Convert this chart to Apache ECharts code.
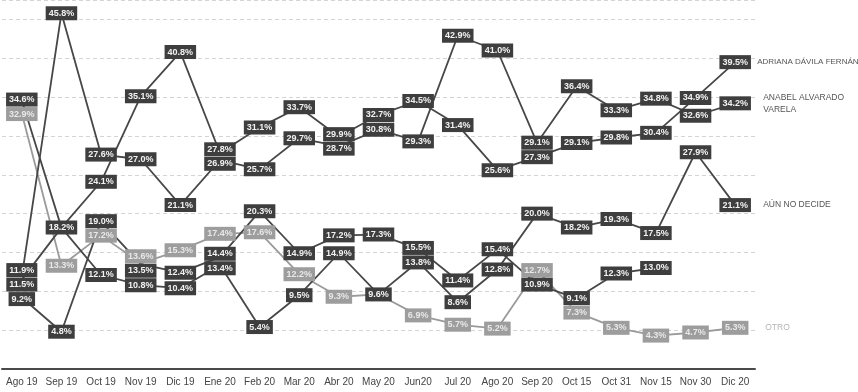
<!DOCTYPE html>
<html>
<head>
<meta charset="utf-8">
<script src="https://cdn.jsdelivr.net/npm/echarts@6/dist/echarts.min.js"></script>
<style>
html,body{margin:0;padding:0;background:#fff;}
#chart{width:858px;height:392px;}
</style>
</head>
<body>
<div id="chart"></div>
<script>
const categories = ['Ago 19','Sep 19','Oct 19','Nov 19','Dic 19','Ene 20','Feb 20','Mar 20','Abr 20','May 20','Jun20','Jul 20','Ago 20','Sep 20','Oct 15','Oct 31','Nov 15','Nov 30','Dic 20'];
const adriana = [34.6,18.2,24.1,35.1,40.8,27.8,31.1,33.7,29.9,32.7,34.5,31.4,25.6,27.3,29.1,29.8,30.4,34.9,39.5];
const anabel = [11.9,45.8,27.6,27.0,21.1,26.9,25.7,29.7,28.7,30.8,29.3,42.9,41.0,29.1,36.4,33.3,34.8,32.6,34.2];
const aunNoDecide = [11.5,18.2,12.1,10.8,10.4,13.4,5.4,9.5,14.9,9.6,13.8,8.6,12.8,20.0,18.2,19.3,17.5,27.9,21.1];
const otroCandidato = [9.2,4.8,19.0,13.5,12.4,14.4,20.3,14.9,17.2,17.3,15.5,11.4,15.4,10.9,9.1,12.3,13.0,null,null];
const otro = [32.9,13.3,17.2,13.6,15.3,17.4,17.6,12.2,9.3,9.6,6.9,5.7,5.2,12.7,7.3,5.3,4.3,4.7,5.3];

const seriesDefs = [
  {name:'Otro', data: otro, dark:false, endText:'OTRO', endDist:30, endSize:8.5, hidden:[9]},
  {name:'Otro candidato', data: otroCandidato, dark:true, endText:null, hidden:[]},
  {name:'Aún no decide', data: aunNoDecide, dark:true, endText:'AÚN NO DECIDE', endDist:28, endSize:8.5, hidden:[]},
  {name:'Anabel Alvarado Varela', data: anabel, dark:true, endText:'ANABEL ALVARADO\nVARELA', endDist:28, endSize:8.5, hidden:[]},
  {name:'Adriana Dávila Fernández', data: adriana, dark:true, endText:'ADRIANA DÁVILA FERNÁNDEZ', endDist:22, endSize:8, hidden:[1]}
];

const FONT = '"Liberation Sans Narrow","Arial Narrow","Liberation Sans",sans-serif';
const chart = echarts.init(document.getElementById('chart'), null, {renderer:'canvas'});

function build(offsets){
  return {
    backgroundColor:'#fff',
    animation:false,
    grid:{left:2,right:103,top:0,bottom:23},
    xAxis:{
      type:'category', data:categories, boundaryGap:true,
      axisLine:{show:true,lineStyle:{color:'#4a4a4a',width:2}},
      axisTick:{show:false},
      axisLabel:{color:'#444',fontSize:10,fontFamily:FONT,margin:8,interval:0}
    },
    yAxis:{
      type:'value', min:0, max:47.5, interval:5,
      axisLine:{show:false}, axisTick:{show:false}, axisLabel:{show:false},
      splitLine:{show:true,lineStyle:{color:'#d4d4d4',type:[4,3],width:1}}
    },
    series: seriesDefs.map((s,si)=>{
      const lineColor = s.dark ? '#474747' : '#9a9a9a';
      const boxColor = s.dark ? '#3e3e3e' : '#9d9d9d';
      const textColor = s.dark ? '#f2f2f2' : '#e8e8e8';
      return {
        name:s.name, type:'line', connectNulls:false,
        symbol:'circle', symbolSize:1, showSymbol:true,
        itemStyle:{color:lineColor},
        lineStyle:{color:lineColor,width:1.8},
        label:{
          show:true, position:'inside',
          formatter:p=>p.value.toFixed(1)+'%',
          backgroundColor:boxColor, color:textColor,
          fontFamily:FONT, fontSize:9, fontWeight:'bold', lineHeight:10,
          padding:[2,3,2,3]
        },
        endLabel: s.endText ? {
          show:true, formatter:()=>s.endText, distance:s.endDist,
          color: s.dark ? '#555' : '#b5b5b5', fontFamily:FONT, fontSize:s.endSize, lineHeight:12
        } : {show:false},
        emphasis:{disabled:true},
        data: s.data.map((v,i)=>{
          if(v===null) return null;
          const hide = s.hidden.indexOf(i)>=0;
          const off = offsets ? (offsets[si][i]||0) : 0;
          return {value:v, label:{show:!hide, offset:[0,off]}};
        })
      };
    })
  };
}

chart.setOption(build(null));

// spread stacked labels vertically at each category so boxes don't overlap
const MIN = 14.5;
const offsets = seriesDefs.map(()=>[]);
for(let i=0;i<categories.length;i++){
  const items=[];
  seriesDefs.forEach((s,si)=>{
    const v=s.data[i];
    if(v===null || s.hidden.indexOf(i)>=0) return;
    const y = chart.convertToPixel({yAxisIndex:0}, v);
    items.push({si, y, y2:y});
  });
  items.sort((a,b)=>a.y-b.y);
  for(let it=0;it<200;it++){
    for(let k=1;k<items.length;k++){
      const gap = items[k].y2-items[k-1].y2;
      if(gap<MIN){
        const d=(MIN-gap)/2;
        items[k-1].y2-=d; items[k].y2+=d;
      }
    }
  }
  items.forEach(o=>{offsets[o.si][i]=o.y2-o.y;});
}
chart.setOption(build(offsets), true);
</script>
</body>
</html>
